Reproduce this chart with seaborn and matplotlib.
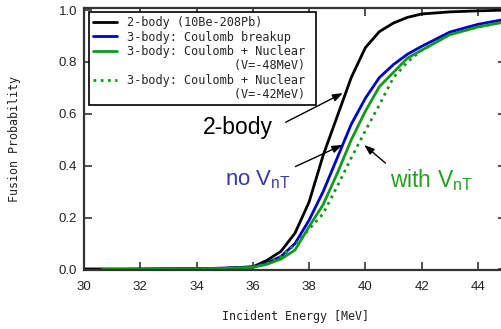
import numpy as np
import pandas as pd
import seaborn as sns
import matplotlib
matplotlib.use("Agg")
import matplotlib.pyplot as plt
from matplotlib.lines import Line2D

# data (energy in MeV, fusion probability)
e_2body = [30, 32, 34, 35, 36, 36.5, 37, 37.5, 38, 38.5, 39, 39.5, 40, 40.5, 41, 41.5, 42, 43, 44, 45]
p_2body = [0.002, 0.002, 0.003, 0.005, 0.01, 0.035, 0.07, 0.14, 0.26, 0.44, 0.59, 0.74, 0.855, 0.917,
           0.95, 0.972, 0.985, 0.993, 0.997, 1.0]

e_3body = [31.2, 32, 34, 35, 36, 36.5, 37, 37.5, 38, 38.5, 39, 39.5, 40, 40.5, 41, 41.5, 42, 43, 44, 45]
p_coul = [0.0, 0.001, 0.003, 0.005, 0.01, 0.025, 0.05, 0.10, 0.19, 0.30, 0.43, 0.56, 0.66, 0.74,
          0.79, 0.83, 0.86, 0.915, 0.945, 0.965]

e_nuc48 = [30.7, 32, 34, 35, 36, 36.5, 37, 37.5, 38, 38.5, 39, 39.5, 40, 40.5, 41, 41.5, 42, 43, 44, 45]
p_nuc48 = [0.0, 0.001, 0.002, 0.004, 0.008, 0.02, 0.04, 0.075, 0.165, 0.25, 0.37, 0.50, 0.61, 0.705,
           0.76, 0.815, 0.845, 0.905, 0.935, 0.955]

e_nuc42 = [30.6, 32, 34, 35, 36, 36.5, 37, 37.5, 38, 38.5, 39, 39.5, 40, 40.5, 41, 41.5, 42, 43, 44, 45]
p_nuc42 = [0.0, 0.001, 0.002, 0.004, 0.009, 0.022, 0.05, 0.095, 0.155, 0.215, 0.32, 0.43, 0.535, 0.635,
           0.74, 0.80, 0.845, 0.905, 0.935, 0.955]

labels = ["2-body (10Be-208Pb)",
          "3-body: Coulomb breakup",
          "3-body: Coulomb + Nuclear ",
          "3-body: Coulomb + Nuclear "]
sublabels = [None, None, " " * 15 + "(V=-48MeV)", " " * 15 + "(V=-42MeV)"]
x_ticks = [30, 32, 34, 36, 38, 40, 42, 44]
y_ticks = [0.0, 0.2, 0.4, 0.6, 0.8, 1.0]

sns.set_style("ticks")
plt.rcParams['font.family'] = ['Liberation Sans', 'DejaVu Sans']
plt.rcParams['mathtext.fontset'] = 'custom'
plt.rcParams['mathtext.rm'] = 'Liberation Sans'
plt.rcParams['mathtext.it'] = 'Liberation Sans'

fig = plt.figure(figsize=(5.01, 3.29), dpi=100)
ax = fig.add_axes([84 / 501, 59 / 329, 422 / 501, 262 / 329])

blue = "#0000cc"
green = "#11991a"

sns.lineplot(x=e_2body, y=p_2body, color="black", lw=2.0, ax=ax)
sns.lineplot(x=e_3body, y=p_coul, color=blue, lw=2.0, ax=ax)
sns.lineplot(x=e_nuc48, y=p_nuc48, color=green, lw=2.0, ax=ax)
sns.lineplot(x=e_nuc42, y=p_nuc42, color=green, lw=2.0, ax=ax)
ax.lines[3].set_linestyle((0, (1, 1.6)))

ax.set_xlim(30, 45)
ax.set_ylim(-0.002, 1.008)
ax.set_xticks(x_ticks)
ax.set_yticks(y_ticks)
ax.set_xticklabels([str(t) for t in x_ticks])
ax.set_yticklabels([f"{t:.1f}" for t in y_ticks])
ax.tick_params(direction="in", top=True, right=True, length=6, width=1.2,
               color="#333333", labelsize=9.5, labelcolor="#222222")
ax.tick_params(axis="x", pad=8)
ax.tick_params(axis="y", pad=5)
for s in ax.spines.values():
    s.set_linewidth(1.6)
    s.set_color("#333333")

mono = "DejaVu Sans Mono"
ax.set_xlabel("Incident Energy [MeV]", family=mono, fontsize=8.4, labelpad=12, color="#222222")
ax.set_ylabel("Fusion Probability", family=mono, fontsize=8.4, labelpad=27, color="#222222")

# legend: multi-line entries get the handle on the first line only
blank = Line2D([], [], color="none")
handles, leg_labels = [], []
for line, lab, sub in zip(ax.lines[:4], labels, sublabels):
    handles.append(line)
    leg_labels.append(lab)
    if sub:
        handles.append(blank)
        leg_labels.append(sub)
leg = ax.legend(handles, leg_labels, loc="upper left", bbox_to_anchor=(0.012, 0.985),
                borderaxespad=0, prop={"family": mono, "size": 8.6}, handlelength=2.0,
                handletextpad=0.8, labelspacing=0.12, borderpad=0.35, fancybox=False,
                framealpha=1, edgecolor="black")
leg.get_frame().set_linewidth(1.2)

# annotations with arrows
arrow = dict(arrowstyle="-|>,head_length=0.6,head_width=0.22", color="black", lw=1,
             mutation_scale=10, shrinkB=0)
ax.annotate("2-body", xy=(39.2, 0.68), xytext=(36.7, 0.546), fontsize=16.5,
            ha="right", va="center", color="black",
            arrowprops=dict(arrow, relpos=(1, 0.45), shrinkA=8))
ax.annotate("no V$_{\\mathrm{nT}}$", xy=(39.18, 0.48), xytext=(37.35, 0.345), fontsize=16,
            ha="right", va="center", color="#3a3aa6",
            arrowprops=dict(arrow, relpos=(1, 1), shrinkA=1))
ax.annotate("with V$_{\\mathrm{nT}}$", xy=(39.96, 0.48), xytext=(42.34, 0.346), fontsize=16.5,
            ha="center", va="center", color="#22a022",
            arrowprops=dict(arrow, relpos=(0, 1), shrinkA=1))

plt.savefig("out.png", dpi=100)
